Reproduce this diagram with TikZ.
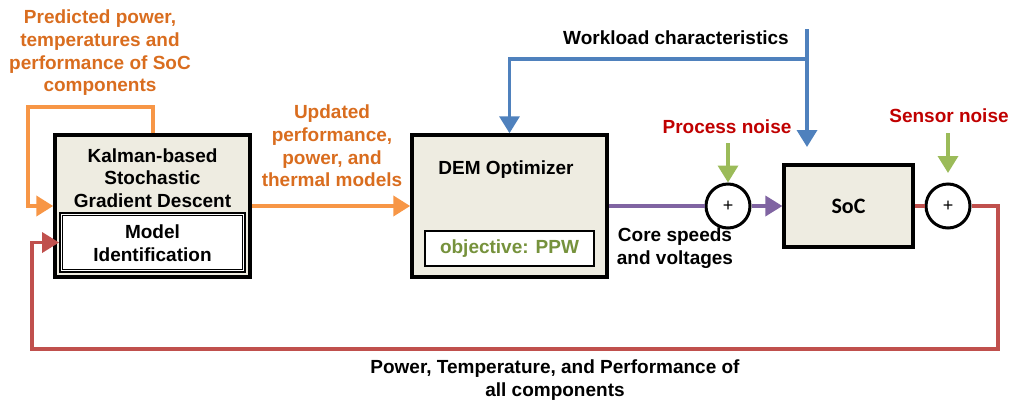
\documentclass[tikz,border=0pt]{standalone}
\usepackage{fontspec}
\setmainfont{Liberation Sans}
\newfontfamily\socfont{Carlito}
\usetikzlibrary{arrows.meta}

\definecolor{boxfill}{HTML}{EEECE1}
\definecolor{orangeline}{HTML}{F79646}
\definecolor{orangetext}{HTML}{D96D1F}
\definecolor{blueline}{HTML}{4F81BD}
\definecolor{greenline}{HTML}{9BBB59}
\definecolor{purpleline}{HTML}{8064A2}
\definecolor{redline}{HTML}{C0504D}
\definecolor{redtext}{HTML}{C00000}
\definecolor{greentext}{HTML}{76923C}

\tikzset{
  blockbox/.style={draw=black, fill=boxfill, line width=3.5pt, rectangle, inner sep=0pt},
  whitebox/.style={draw=black, fill=white, rectangle, inner sep=0pt},
  sumnode/.style={draw=black, fill=white, circle, line width=3pt, minimum size=44pt,
    inner sep=0pt, font=\fontsize{18}{20}\selectfont},
  lbl/.style={align=center, inner sep=0pt, font=\fontsize{19}{22.7}\selectfont\bfseries},
  tip/.style={-{Triangle[width=20pt 0, length=17pt 0]}},
  conn/.style={line width=3.5pt},
}

\begin{document}
\begin{tikzpicture}[x=1pt, y=-1pt]
\useasboundingbox (0,0) rectangle (1010,400);

% --- blocks ---
\node[blockbox, minimum width=195pt, minimum height=142pt] (kalman) at (152.5,206) {};
\node[whitebox, line width=1.8pt, minimum width=185pt, minimum height=59pt] (model) at (152.5,242.5) {};
\draw[line width=1pt] ([shift={(3.5pt,-3.5pt)}]model.north west)
  rectangle ([shift={(-3.5pt,3.5pt)}]model.south east);
\node[lbl] (kalmantxt) at (152.5,178) {Kalman-based\\Stochastic\\Gradient Descent};
\node[lbl] (modeltxt) at (152.5,243.5) {Model\\Identification};

\node[blockbox, minimum width=195pt, minimum height=142pt] (dem) at (509.5,206) {};
\node[lbl] (demtxt) at (506,170) {DEM Optimizer};
\node[whitebox, line width=1.8pt, minimum width=169pt, minimum height=35pt] (obj) at (509.5,248.5) {};
\node[lbl, text=greentext] (objtxt) at (509.5,248.5) {objective: PPW};

\node[blockbox, line width=3.2pt, minimum width=129pt, minimum height=82pt,
      font=\socfont\fontsize{22}{24}\selectfont\bfseries] (soc) at (848.5,206) {SoC};

\node[sumnode] (c1) at (728,206) {+};
\node[sumnode] (c2) at (948,206) {+};

% --- labels ---
\node[lbl, text=orangetext] (predtxt) at (100,53)
  {Predicted power,\\temperatures and\\performance of SoC\\components};
\node[lbl, text=orangetext] (updtxt) at (332,146)
  {Updated\\performance,\\power, and\\thermal models};
\node[lbl] (wltxt) at (676,38) {Workload characteristics};
\node[lbl, text=redtext] (pntxt) at (727,127) {Process noise};
\node[lbl, text=redtext] (sntxt) at (949,116) {Sensor noise};
\node[lbl] (coretxt) at (675,248) {Core speeds\\and voltages};
\node[lbl] (feedtxt) at (555,380) {Power, Temperature, and Performance of\\all components};

% --- free ends of connectors ---
\coordinate (wlsrc) at (807,29);
\coordinate (wljoin) at (807,59);
\coordinate (wlsoc) at (807,147);
\coordinate (pnsrc) at (728,143);
\coordinate (snsrc) at (948,133);
\coordinate (snend) at (948,173);
\coordinate (oloop) at (28,107);
\coordinate (rcorner) at (998,349);
\coordinate (lcorner) at (32,349);

% --- orange connectors ---
\draw[conn, line width=4pt, orangeline, tip] (kalman.east) -- (dem.west);
\draw[conn, line width=4pt, orangeline, tip] (kalman.north) |- (oloop) |- (kalman.west);

% --- workload characteristics ---
\draw[conn, blueline, tip] (wlsrc) -- (wlsoc);
\draw[conn, blueline, tip] (wljoin) -| (dem.north);

% --- noise inputs ---
\draw[conn, greenline, tip] (pnsrc) -- (c1.north);
\draw[conn, greenline, tip] (snsrc) -- (snend);

% --- control path ---
\draw[conn, purpleline] (dem.east) -- (c1.west);
\draw[conn, purpleline, tip] (c1.east) -- (soc.west);

% --- measurement feedback ---
\draw[conn, redline] (soc.east) -- (c2.west);
\draw[conn, redline, tip] (c2.east) -| (rcorner) -- (lcorner) |- (model.west);

\end{tikzpicture}
\end{document}
